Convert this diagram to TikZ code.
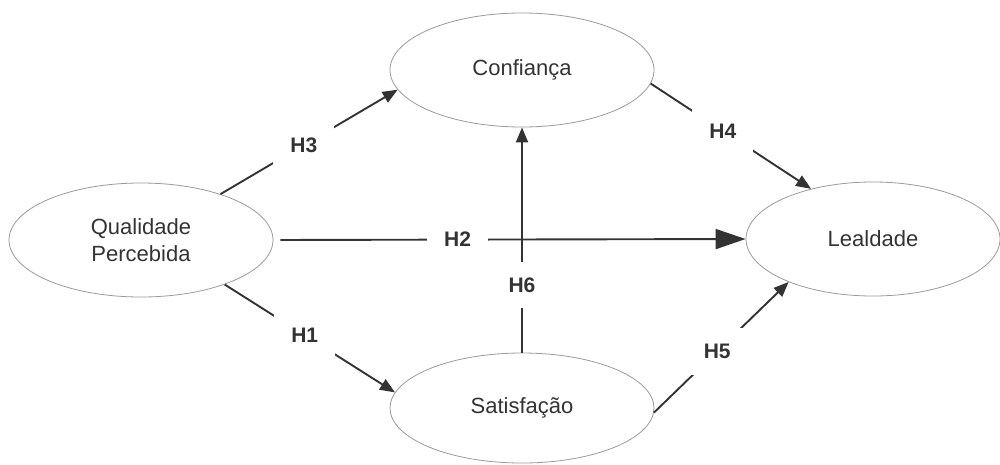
\documentclass[tikz,border=0pt]{standalone}
\usepackage{fontspec}
\setmainfont{Liberation Sans}
\usetikzlibrary{%
  positioning
 ,arrows.meta
 ,shapes.geometric
}
\definecolor{ink}{HTML}{333333}
\definecolor{rim}{HTML}{9A9A9A}
\tikzstyle{cst}=[ellipse,draw=rim,line width=0.8pt,inner sep=0pt,minimum width=264pt,minimum height=114pt,text=ink,align=center,font=\fontsize{22}{27}\selectfont]
\tikzstyle{hyp}=[draw=ink,line width=1.9pt,-{Triangle[length=15pt,width=12pt]}]
\tikzstyle{lbl}=[fill=white,inner xsep=17pt,inner ysep=16pt,text=ink,font=\fontsize{21}{24}\selectfont\bfseries]

\begin{document}
\begin{tikzpicture}[x=1pt,y=-1pt]
      \useasboundingbox (0,0) rectangle (1000,464);
      \node[cst] (qp)   at (141,240) {Qualidade\\Percebida};
      \node[cst] (conf) at (522,70)  {Confiança};
      \node[cst,minimum width=254pt] (leal) at (873,239) {Lealdade};
      \node[cst,minimum height=110pt] (sat)  at (522,408) {Satisfação};
      \path
        (qp.-28) edge[hyp] node[lbl,pos=0.47] {H1} (sat.173)
        (qp.30) edge[hyp] node[lbl,pos=0.47] {H3} (conf.189)
        (conf.-6) edge[hyp] node[lbl,pos=0.45] {H4} (leal.141)
        (sat.-2) edge[hyp] node[lbl,pos=0.47] {H5} (leal.207);
      \draw[hyp,-{Triangle[length=30pt,width=20pt]},shorten <=7pt] (qp.east) -- node[lbl,pos=0.39] {H2} (leal.west);
      \draw[hyp] (sat.north) -- node[lbl,pos=0.3] {H6} (conf.south);
    \end{tikzpicture}
\end{document}
